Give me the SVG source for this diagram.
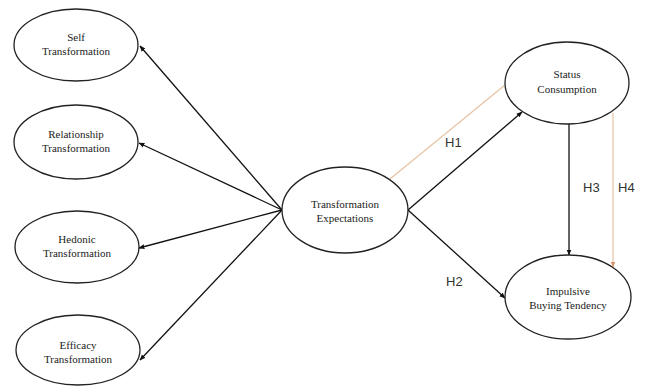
<svg xmlns="http://www.w3.org/2000/svg" width="647" height="387" viewBox="0 0 647 387">
<style>
.node ellipse{fill:#fff;stroke:#222;stroke-width:1.3}
.node text{font-family:"Liberation Serif","Times New Roman",serif;font-size:11px;fill:#222;text-anchor:middle}
.edge{stroke:#111;stroke-width:1.3;fill:none}
.orange{stroke:#e6c3a3;stroke-width:1.2;fill:none}
.lbl{font-family:"Liberation Sans",Arial,sans-serif;font-size:13px;fill:#333}
</style>
<defs>
<marker id="ah" viewBox="0 0 10 10" refX="9" refY="5" markerWidth="6" markerHeight="6" orient="auto" markerUnits="userSpaceOnUse"><path d="M0,1 L10,5 L0,9 z" fill="#111"/></marker>
<marker id="aho" viewBox="0 0 10 10" refX="9" refY="5" markerWidth="6" markerHeight="6" orient="auto" markerUnits="userSpaceOnUse"><path d="M0,1 L10,5 L0,9 z" fill="#d4956a"/></marker>
</defs>
<rect width="647" height="387" fill="#fff"/>
<g id="connectors">
<line class="edge" x1="282" y1="210" x2="140" y2="46" marker-end="url(#ah)"/>
<line class="edge" x1="282" y1="210" x2="139" y2="143" marker-end="url(#ah)"/>
<line class="edge" x1="282" y1="210" x2="139" y2="248" marker-end="url(#ah)"/>
<line class="edge" x1="282" y1="210" x2="140" y2="360" marker-end="url(#ah)"/>
<line class="orange" x1="390" y1="179" x2="505" y2="85"/>
<line class="edge" x1="408" y1="210" x2="522" y2="112" marker-end="url(#ah)"/>
<line class="edge" x1="408" y1="210" x2="505" y2="298" marker-end="url(#ah)"/>
<line class="edge" x1="569" y1="124" x2="569" y2="255" marker-end="url(#ah)"/>
<line class="orange" x1="613" y1="113" x2="613" y2="267" marker-end="url(#aho)"/>
<text class="lbl" x="445" y="147">H1</text>
<text class="lbl" x="446" y="286">H2</text>
<text class="lbl" x="583" y="192">H3</text>
<text class="lbl" x="618" y="192">H4</text>
</g>
<g id="self" class="node"><ellipse cx="76" cy="45" rx="62" ry="36"/><text x="76" y="41">Self</text><text x="76" y="55">Transformation</text></g>
<g id="relationship" class="node"><ellipse cx="76" cy="142" rx="62" ry="37"/><text x="76" y="138">Relationship</text><text x="76" y="152">Transformation</text></g>
<g id="hedonic" class="node"><ellipse cx="77" cy="247" rx="62" ry="36"/><text x="77" y="243">Hedonic</text><text x="77" y="257">Transformation</text></g>
<g id="efficacy" class="node"><ellipse cx="78" cy="350" rx="62" ry="35"/><text x="78" y="349">Efficacy</text><text x="78" y="363">Transformation</text></g>
<g id="te" class="node"><ellipse cx="345" cy="210" rx="63" ry="43"/><text x="345" y="208">Transformation</text><text x="345" y="222">Expectations</text></g>
<g id="status" class="node"><ellipse cx="567" cy="83" rx="62" ry="41"/><text x="567" y="78">Status</text><text x="567" y="93">Consumption</text></g>
<g id="impulsive" class="node"><ellipse cx="568" cy="297" rx="63" ry="42"/><text x="568" y="295">Impulsive</text><text x="568" y="309">Buying Tendency</text></g>
</svg>
